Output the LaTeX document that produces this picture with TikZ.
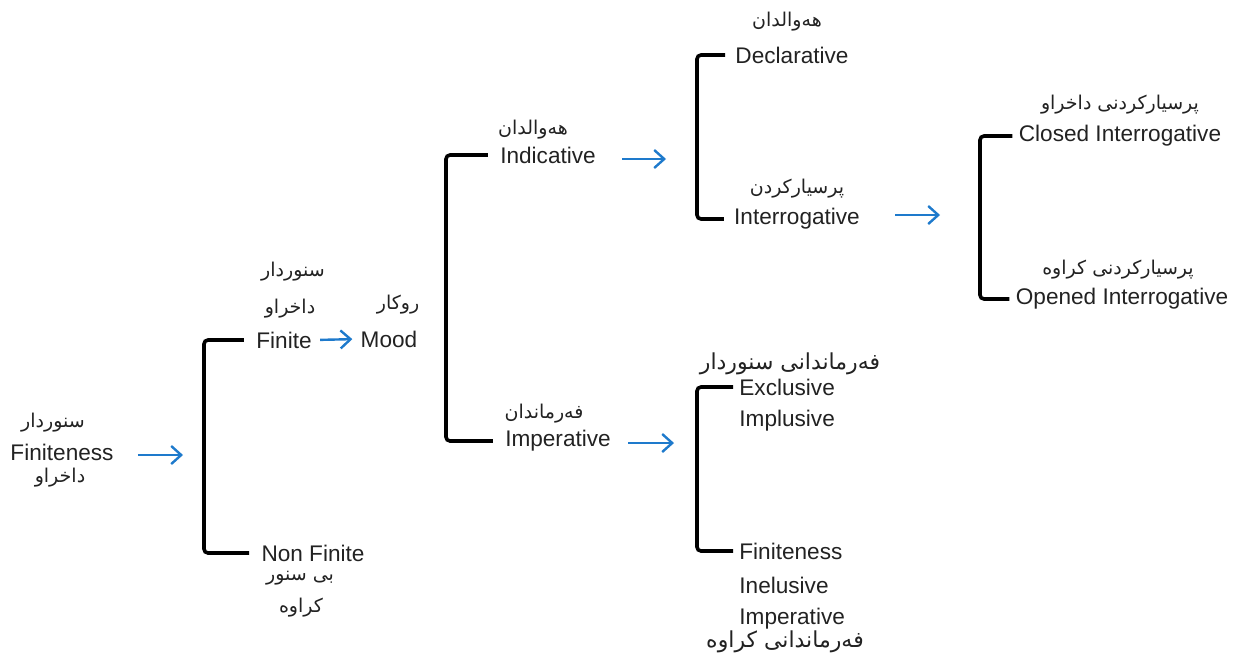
\documentclass[tikz,border=0pt]{standalone}
\usepackage{fontspec}
\setmainfont{Liberation Sans}
\newfontfamily\kufont[Script=Arabic]{DejaVu Sans}
\TeXXeTstate=1
\usetikzlibrary{arrows.meta}
\newcommand{\ku}[1]{{\kufont\fontsize{9.5}{11}\selectfont\beginR #1\endR}}
\newcommand{\kubig}[1]{{\kufont\fontsize{11}{13}\selectfont\beginR #1\endR}}
\definecolor{arrowblue}{RGB}{30,122,204}
\definecolor{inkgray}{RGB}{34,34,34}
\begin{document}
\begin{tikzpicture}[x=0.5pt,y=-0.5pt,
        every node/.style={inner sep=1pt,text=inkgray,font=\fontsize{11.3}{13}\selectfont},
        brace/.style={line width=1.8pt,rounded corners=2pt},
        goto/.style={arrowblue,line width=1.2pt,-{Straight Barb[length=5pt,width=9pt]}}]
        \useasboundingbox (0,0) rectangle (1234,660);
        % first level
        \node (fin-ku1) at (53,423) {\ku{سنوردار}};
        \node (finiteness) at (62,452) {Finiteness};
        \node (fin-ku2) at (60,478) {\ku{داخراو}};
        \coordinate (a1) at (183,455);
        \draw [goto] ([xshift=11pt]finiteness.east |- a1) -- (a1);
        % finite / non finite
        \node (finite) at (284,340) {Finite};
        \node (finite-ku1) at (293,272) {\ku{سنوردار}};
        \node (finite-ku2) at (290,309) {\ku{داخراو}};
        \node (mood) at (389,339) {Mood};
        \node (mood-ku) at (398,305) {\ku{روکار}};
        \draw [goto,shorten <=3pt,shorten >=3pt] (finite.east) -- (mood.west);
        \node (nonfinite) at (313,553) {Non Finite};
        \node (nonfin-ku1) at (300,578) {\ku{بی سنور}};
        \node (nonfin-ku2) at (301,608) {\ku{کراوه}};
        \coordinate (b1) at (204,0);
        \draw [brace] ([xshift=-5pt]finite.west) -- (b1 |- finite.west)
              -- (b1 |- nonfinite.west) -- ([xshift=-5pt]nonfinite.west);
        % mood
        \node (indicative) at (548,155) {Indicative};
        \node (indic-ku) at (533,130) {\ku{هەوالدان}};
        \node (imperative) at (558,441) {Imperative};
        \node (imper-ku) at (544,414) {\ku{فەرماندان}};
        \coordinate (b2) at (446,0);
        \draw [brace] ([xshift=-5pt]indicative.west) -- (b2 |- indicative.west)
              -- (b2 |- imperative.west) -- ([xshift=-5pt]imperative.west);
        \coordinate (a3) at (666,159);
        \coordinate (a4) at (674,443);
        \draw [goto] ([xshift=12pt]indicative.east |- a3) -- (a3);
        \draw [goto] ([xshift=7.5pt]imperative.east |- a4) -- (a4);
        % indicative
        \node (declarative) at (792,55) {Declarative};
        \node (decl-ku) at (787,22) {\ku{هەوالدان}};
        \node (interrogative) at (797,219) {Interrogative};
        \node (inter-ku) at (797,189) {\ku{پرسیارکردن}};
        \coordinate (b3) at (697,0);
        \draw [brace] ([xshift=-4pt]declarative.west) -- (b3 |- declarative.west)
              -- (b3 |- interrogative.west) -- ([xshift=-4pt]interrogative.west);
        \coordinate (a5) at (940,215);
        \draw [goto] ([xshift=16.5pt]interrogative.east |- a5) -- (a5);
        % interrogative
        \node (closed) at (1120,136) {Closed Interrogative};
        \node (closed-ku) at (1120,105) {\ku{پرسیارکردنی داخراو}};
        \node (opened) at (1122,299) {Opened Interrogative};
        \node (opened-ku) at (1118,270) {\ku{پرسیارکردنی کراوه}};
        \coordinate (b4) at (980,0);
        \draw [brace] ([xshift=-2pt]closed.west) -- (b4 |- closed.west)
              -- (b4 |- opened.west) -- ([xshift=-2pt]opened.west);
        % imperative
        \node (excl-ku) at (790,364) {\kubig{فەرماندانی سنوردار}};
        \node[anchor=west] (exclusive) at (737,387) {Exclusive};
        \node[anchor=west] (implusive) at (737,421) {Implusive};
        \node[anchor=west] (finiteness2) at (737,551) {Finiteness};
        \node[anchor=west] (inelusive) at (737,585) {Inelusive};
        \node[anchor=west] (imperative2) at (737,619) {Imperative};
        \node (incl-ku) at (785,642) {\kubig{فەرماندانی کراوه}};
        \coordinate (b5) at (697,0);
        \draw [brace] ([xshift=-2pt]exclusive.west) -- (b5 |- exclusive.west)
              -- (b5 |- finiteness2.west) -- ([xshift=-2pt]finiteness2.west);
     \end{tikzpicture}
\end{document}
